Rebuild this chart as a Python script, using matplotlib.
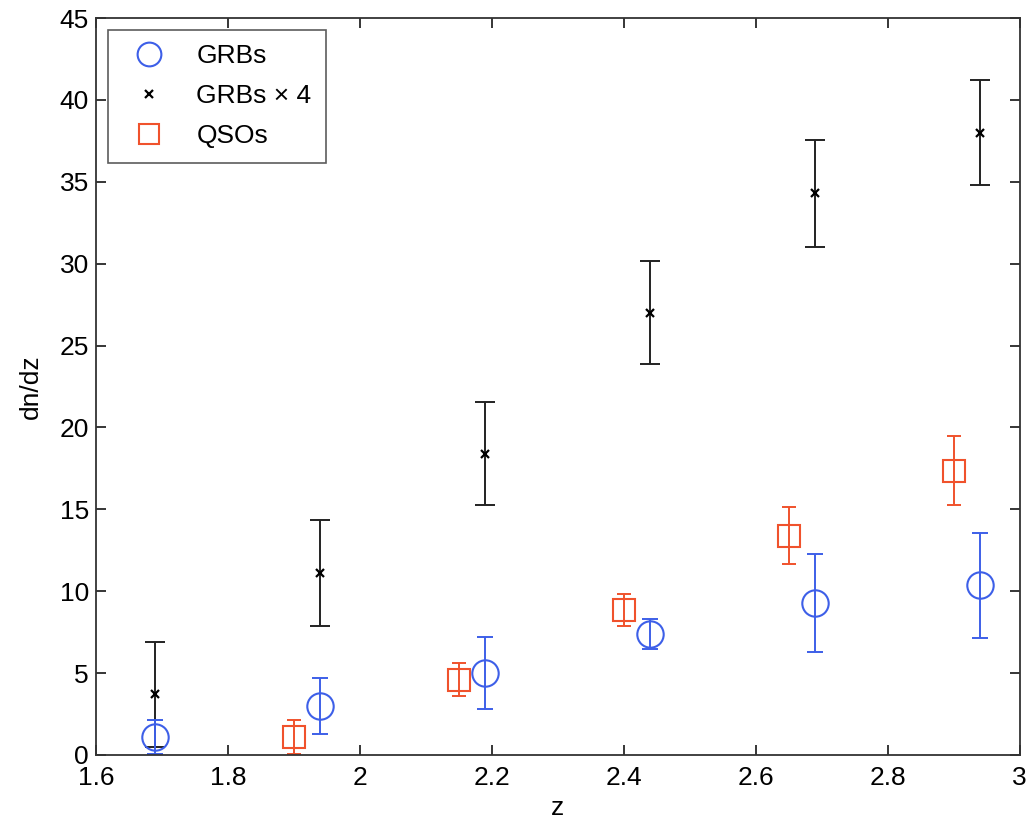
import numpy as np
import matplotlib.pyplot as plt

plt.rcParams['font.family'] = ['Liberation Sans', 'DejaVu Sans']

# GRBs
z_grb = np.array([1.69, 1.94, 2.19, 2.44, 2.69, 2.94])
dn_grb = np.array([1.1, 3.0, 5.0, 7.4, 9.3, 10.35])
err_grb = np.array([1.05, 1.7, 2.2, 0.9, 3.0, 3.2])

# GRBs x 4
dn_grb4 = np.array([3.7, 11.1, 18.4, 27.0, 34.3, 38.0])
err_grb4 = np.array([3.2, 3.25, 3.15, 3.15, 3.25, 3.2])

# QSOs
z_qso = np.array([1.90, 2.15, 2.40, 2.65, 2.90])
dn_qso = np.array([1.1, 4.6, 8.85, 13.4, 17.35])
err_qso = np.array([1.05, 1.0, 1.0, 1.75, 2.1])

blue = '#3d5fe8'
red = '#f0522c'

fig = plt.figure(figsize=(10.29, 8.21), dpi=100)
ax = fig.add_axes([0.0933, 0.0804, 0.8977, 0.8976])

ax.errorbar(z_grb, dn_grb4, yerr=err_grb4, fmt='none', ecolor='#222222',
            elinewidth=1.4, capsize=7, capthick=1.4, zorder=2)
ax.errorbar(z_grb, dn_grb, yerr=err_grb, fmt='none', ecolor=blue,
            elinewidth=1.4, capsize=5.5, capthick=1.4, zorder=2)
ax.errorbar(z_qso, dn_qso, yerr=err_qso, fmt='none', ecolor=red,
            elinewidth=1.4, capsize=5, capthick=1.4, zorder=2)

ax.plot(z_grb, dn_grb, 'o', ms=19, mfc='none', mec=blue, mew=1.5,
        label='GRBs', zorder=3)
ax.plot(z_grb, dn_grb4, 'x', ms=6, mec='black', mew=1.6,
        label='GRBs \u00d7 4', zorder=3)
ax.plot(z_qso, dn_qso, 's', ms=16, mfc='none', mec=red, mew=1.5,
        label='QSOs', zorder=3)

ax.set_xlim(1.6, 3.0)
ax.set_ylim(0, 45)
ax.set_xticks(np.arange(1.6, 3.01, 0.2))
ax.set_xticklabels(['1.6', '1.8', '2', '2.2', '2.4', '2.6', '2.8', '3'])
ax.set_yticks(np.arange(0, 46, 5))
ax.tick_params(direction='in', length=7, width=1.1, top=True, right=True,
               labelsize=19, pad=5)
ax.tick_params(axis='x', pad=8)
for s in ax.spines.values():
    s.set_linewidth(1.3)
    s.set_color('#333333')

ax.set_xlabel('z', fontsize=19, labelpad=4)
ax.set_ylabel('dn/dz', fontsize=19, labelpad=12)

leg = ax.legend(loc='upper left', fontsize=19, frameon=True, fancybox=False,
                borderpad=0.55, handletextpad=0.8, labelspacing=0.6,
                handlelength=2.0, borderaxespad=0.45, markerscale=0.9)
leg.get_frame().set_edgecolor('#333333')
leg.get_frame().set_linewidth(1.2)

plt.savefig('out.png', dpi=100)
